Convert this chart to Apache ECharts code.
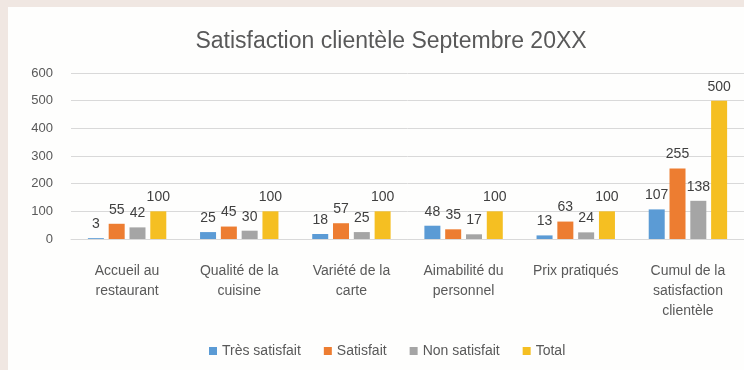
<!DOCTYPE html>
<html>
<head>
<meta charset="utf-8">
<script src="https://cdn.jsdelivr.net/npm/echarts@6/dist/echarts.min.js"></script>
<style>
  html, body { margin: 0; padding: 0; background: #f0e7e2; width: 744px; height: 370px; overflow: hidden; }
  #chart { position: absolute; left: 8px; top: 7px; width: 736px; height: 363px; background: #fefefd; }
</style>
</head>
<body>
<div id="chart"></div>
<script>
// Survey results by criterion
const categories = [
  'Accueil au\nrestaurant',
  'Qualité de la\ncuisine',
  'Variété de la\ncarte',
  'Aimabilité du\npersonnel',
  'Prix pratiqués',
  'Cumul de la\nsatisfaction\nclientèle'
];
const tresSatisfait = [3, 25, 18, 48, 13, 107];
const satisfait = [55, 45, 57, 35, 63, 255];
const nonSatisfait = [42, 30, 25, 17, 24, 138];
const total = [100, 100, 100, 100, 100, 500];

const FONT = '"Liberation Sans", Arial, sans-serif';
const colors = ['#5b9bd5', '#ed7d31', '#a5a5a5', '#f5bf22'];

function barSeries(name, data, color) {
  return {
    name: name,
    type: 'bar',
    data: data,
    barWidth: 16,
    barGap: '30%',
    itemStyle: { color: color },
    label: {
      show: true,
      position: 'top',
      distance: 7,
      color: '#404040',
      fontFamily: FONT,
      fontSize: 14
    }
  };
}

const chart = echarts.init(document.getElementById('chart'), null, { renderer: 'canvas' });
chart.setOption({
  animation: false,
  textStyle: { fontFamily: FONT },
  title: {
    text: 'Satisfaction clientèle Septembre 20XX',
    left: 378,
    top: 18,
    textAlign: 'center',
    textStyle: { color: '#595959', fontSize: 23, fontWeight: 'normal', fontFamily: FONT }
  },
  legend: {
    bottom: 7,
    left: 196,
    itemWidth: 8,
    itemHeight: 8,
    itemGap: 23,
    icon: 'rect',
    textStyle: { color: '#595959', fontSize: 14, fontFamily: FONT },
    data: ['Très satisfait', 'Satisfait', 'Non satisfait', 'Total']
  },
  grid: { left: 63, right: -3, top: 66, bottom: 131, containLabel: false },
  xAxis: {
    type: 'category',
    data: categories,
    axisLine: { show: true, lineStyle: { color: '#d9d9d9', width: 1 } },
    axisTick: { show: false },
    axisLabel: {
      color: '#595959',
      fontSize: 14,
      lineHeight: 20,
      margin: 22,
      interval: 0,
      fontFamily: FONT
    }
  },
  yAxis: {
    type: 'value',
    min: 0,
    max: 600,
    interval: 100,
    axisLine: { show: false },
    axisTick: { show: false },
    splitLine: { lineStyle: { color: '#d9d9d9', width: 1 } },
    axisLabel: { color: '#595959', fontSize: 13, margin: 18, fontFamily: FONT }
  },
  series: [
    barSeries('Très satisfait', tresSatisfait, colors[0]),
    barSeries('Satisfait', satisfait, colors[1]),
    barSeries('Non satisfait', nonSatisfait, colors[2]),
    barSeries('Total', total, colors[3])
  ]
});
</script>
</body>
</html>
